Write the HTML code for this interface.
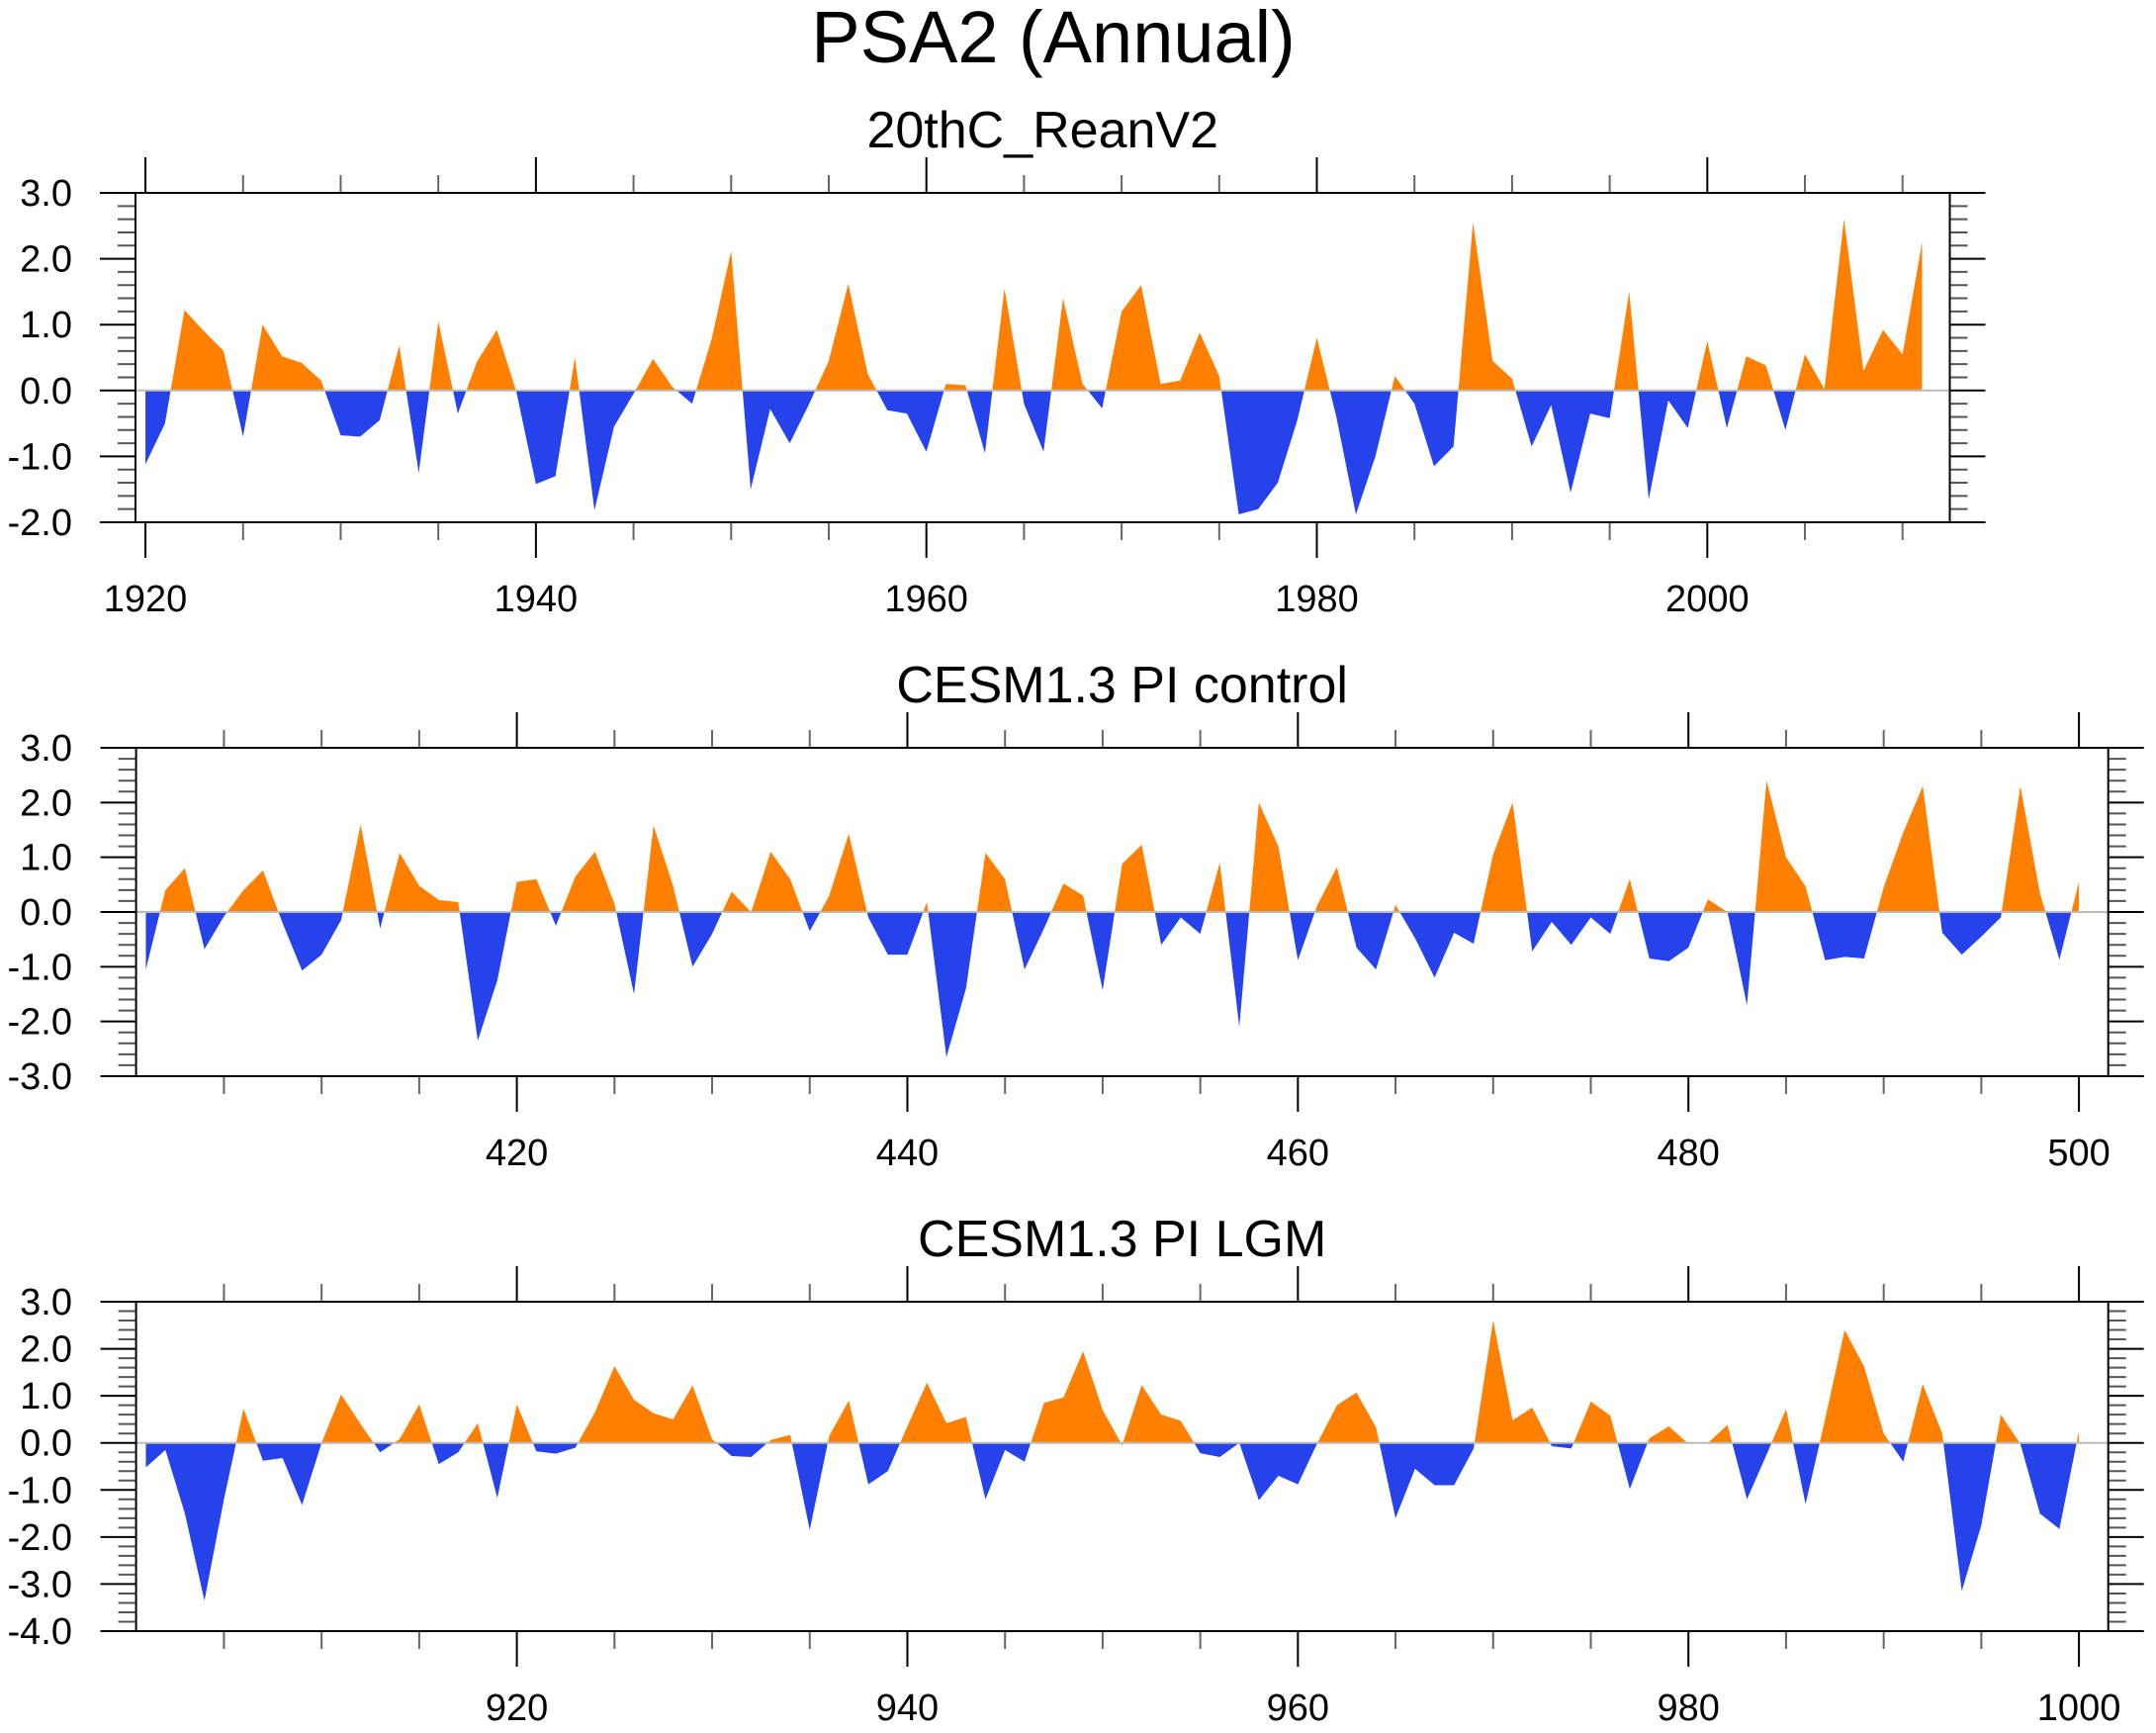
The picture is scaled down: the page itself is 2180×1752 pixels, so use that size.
<!DOCTYPE html>
<html><head><meta charset="utf-8"><style>
html,body{margin:0;padding:0;background:#fff;}
svg{display:block;font-family:"Liberation Sans",Arial,sans-serif;}
</style></head><body>
<svg id="chart" width="2180" height="1752" viewBox="0 0 2180 1752" xmlns="http://www.w3.org/2000/svg">
<text x="1065" y="63" font-size="74" text-anchor="middle">PSA2 (Annual)</text>
</svg>
<script>
const reanYears0 = 1920;
const reanValues = [-1.12,-0.5,1.22,0.9,0.6,-0.7,1.0,0.52,0.42,0.15,
-0.68,-0.7,-0.45,0.68,-1.25,1.05,-0.35,0.45,0.92,-0.02,
-1.42,-1.3,0.5,-1.82,-0.55,-0.05,0.48,0.05,-0.2,0.78,
2.12,-1.5,-0.28,-0.8,-0.2,0.45,1.62,0.25,-0.3,-0.35,
-0.93,0.1,0.08,-0.95,1.55,-0.2,-0.93,1.4,0.1,-0.27,
1.2,1.6,0.1,0.15,0.88,0.22,-1.88,-1.8,-1.4,-0.45,
0.8,-0.4,-1.88,-1.0,0.22,-0.2,-1.15,-0.85,2.55,0.45,
0.18,-0.85,-0.22,-1.55,-0.35,-0.42,1.5,-1.65,-0.15,-0.57,
0.75,-0.57,0.52,0.38,-0.6,0.55,0.02,2.6,0.3,0.92,
0.55,2.25];
const ctrlYears0 = 401;
const ctrlValues = [-1.05,0.4,0.8,-0.68,-0.08,0.4,0.76,-0.2,-1.07,-0.78,
-0.15,1.6,-0.3,1.08,0.48,0.22,0.18,-2.35,-1.25,0.55,
0.6,-0.25,0.65,1.1,0.15,-1.5,1.58,0.48,-1.0,-0.4,
0.37,0.0,1.1,0.6,-0.35,0.3,1.43,-0.1,-0.78,-0.78,
0.18,-2.65,-1.4,1.08,0.6,-1.05,-0.3,0.52,0.3,-1.43,
0.88,1.23,-0.6,-0.1,-0.4,0.9,-2.1,2.0,1.2,-0.88,
0.13,0.82,-0.65,-1.05,0.13,-0.48,-1.2,-0.38,-0.58,1.05,
2.0,-0.72,-0.18,-0.6,-0.1,-0.4,0.6,-0.85,-0.9,-0.65,
0.23,0.0,-1.7,2.4,1.0,0.47,-0.88,-0.82,-0.85,0.45,
1.45,2.3,-0.38,-0.78,-0.45,-0.1,2.3,0.35,-0.87,0.55];
const lgmYears0 = 901;
const lgmValues = [-0.52,-0.15,-1.5,-3.35,-1.2,0.73,-0.38,-0.32,-1.32,0.0,
1.03,0.4,-0.2,0.08,0.82,-0.45,-0.2,0.42,-1.17,0.82,
-0.18,-0.23,-0.1,0.65,1.63,0.92,0.63,0.5,1.22,0.08,
-0.28,-0.3,0.06,0.17,-1.85,0.15,0.9,-0.88,-0.6,0.35,
1.28,0.42,0.55,-1.2,-0.15,-0.4,0.85,0.97,1.95,0.7,
-0.05,1.23,0.6,0.47,-0.22,-0.3,0.0,-1.22,-0.7,-0.88,
0.0,0.8,1.07,0.33,-1.6,-0.55,-0.9,-0.9,-0.12,2.6,
0.48,0.75,-0.07,-0.12,0.88,0.58,-0.98,0.1,0.35,-0.02,
0.0,0.38,-1.2,-0.25,0.72,-1.3,0.5,2.4,1.62,0.2,
-0.4,1.25,0.2,-3.15,-1.75,0.6,-0.02,-1.5,-1.83,0.25];
const reanXTicks = [1920,1940,1960,1980,2000];
const ctrlXTicks = [420,440,460,480,500];
const lgmXTicks = [920,940,960,980,1000];

const NS = "http://www.w3.org/2000/svg";
const svg = document.getElementById('chart');
function mk(tag, attrs, parent){const e=document.createElementNS(NS,tag);for(const k in attrs)e.setAttribute(k,attrs[k]);(parent||svg).appendChild(e);return e;}

function panel(id, title, years0, values, xticks, L, R, T, B, xmin, xmax, ymin, ymax){
  const g = mk('g',{});
  
  
  const X = v => L + (v - xmin) / (xmax - xmin) * (R - L);
  const Y = v => T + (ymax - v) / (ymax - ymin) * (B - T);
  const t = mk('text',{x:(L+R)/2,y:T-46,'font-size':52,'text-anchor':'middle'},g);
  t.textContent = title;
  
  
  const y0 = Y(0);
  let d = 'M' + X(years0).toFixed(2) + ',' + y0.toFixed(2);
  values.forEach((v,i)=>{ d += 'L' + X(years0+i).toFixed(2) + ',' + Y(v).toFixed(2); });
  d += 'L' + X(years0+values.length-1).toFixed(2) + ',' + y0.toFixed(2) + 'Z';
  const cpU = mk('clipPath',{id:id+'-up'},g); mk('rect',{x:L,y:T,width:R-L,height:y0-T},cpU);
  const cpD = mk('clipPath',{id:id+'-dn'},g); mk('rect',{x:L,y:y0,width:R-L,height:B-y0},cpD);
  const pu = mk('path',{d:d,fill:'#ff8000','clip-path':'url(#'+id+'-up)'},g);
  
  
  const pd = mk('path',{d:d,fill:'#2642eb','clip-path':'url(#'+id+'-dn)'},g);
  
  
  mk('line',{x1:L,x2:R,y1:y0,y2:y0,stroke:'#bbb','stroke-width':2},g);
  for (let k = Math.round(ymin*5); k <= Math.round(ymax*5); k++){
    const v = k/5, y = Y(v), major = (k%5===0);
    const len = major ? 36 : 18;
    mk('line',{x1:L-len,x2:L,y1:y,y2:y,stroke:major?'#000':'#555','stroke-width':2},g);
    mk('line',{x1:R,x2:R+len,y1:y,y2:y,stroke:major?'#000':'#555','stroke-width':2},g);
    if (major){
      const tl = mk('text',{x:73,y:y+13,'font-size':38,'text-anchor':'end'},g);
      tl.textContent = v.toFixed(1);
      
      
    }
  }
  for (let yr = Math.ceil(xmin/5)*5; yr <= xmax; yr += 5){
    const x = X(yr), major = (yr%20===0);
    const len = major ? 36 : 18;
    mk('line',{x1:x,x2:x,y1:T-len,y2:T,stroke:major?'#000':'#666','stroke-width':2},g);
    mk('line',{x1:x,x2:x,y1:B,y2:B+len,stroke:major?'#000':'#666','stroke-width':2},g);
  }
  xticks.forEach(yr=>{
    const tl = mk('text',{x:X(yr),y:B+90,'font-size':38,'text-anchor':'middle'},g);
    tl.textContent = yr;
    
    
  });
  const fr = mk('rect',{x:L,y:T,width:R-L,height:B-T,fill:'none',stroke:'#000','stroke-width':2},g);
  
  
}
panel('rean','20thC_ReanV2',reanYears0,reanValues,reanXTicks,137,1971.5,195,528,1919.49,2012.42,-2,3);
panel('ctrl','CESM1.3 PI control',ctrlYears0,ctrlValues,ctrlXTicks,137.6,2131.7,756,1088,400.5,501.5,-3,3);
panel('lgm','CESM1.3 PI LGM',lgmYears0,lgmValues,lgmXTicks,137.6,2131.7,1316,1649,900.5,1001.5,-4,3);
</script>
</body></html>
